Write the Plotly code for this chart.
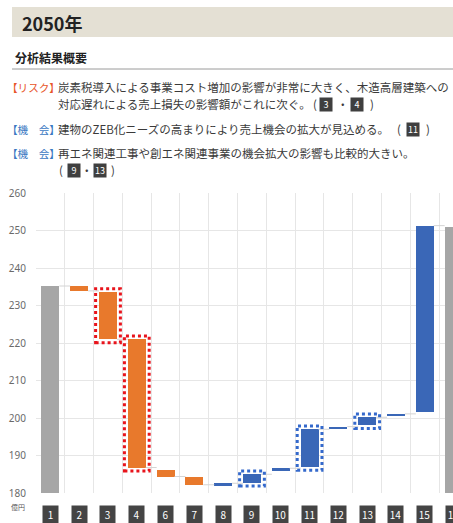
import plotly.graph_objects as go

# ---------------- data ----------------
labels = ["1", "2", "3", "4", "6", "7", "8", "9", "10", "11", "12", "13", "14", "15", "16"]
starts = [180, 235.2, 233.6, 221.0, 186.1, 184.2, 182.1, 182.8, 185.8, 187.0, 197.0, 198.1, 200.6, 201.7, 180]
ends   = [235.2, 233.9, 221.0, 186.8, 184.4, 182.2, 182.6, 185.0, 186.6, 197.0, 197.7, 200.2, 201.1, 251.3, 251.0]
kinds  = ["total", "down", "down", "down", "down", "down", "up", "up", "up", "up", "up", "up", "up", "up", "total"]
red_marked = ["3", "4"]
blue_marked = ["9", "11", "13"]

y_ticks = [180, 190, 200, 210, 220, 230, 240, 250, 260]

colors = {"total": "#a6a6a6", "down": "#e8792c", "up": "#3a67b7"}

# ---------------- geometry helpers (pixel layout) ----------------
W, H = 453, 523
L, R, T, B = 36, 453, 193, 493
XR = [-0.5, 13.98]
BW = 0.62


def pxx(p):
    return (p - L) / (R - L)


def pxy(p):
    return (B - p) / (B - T)


def idx_paper(i):
    return (i - XR[0]) / (XR[1] - XR[0])


xs = list(range(len(labels)))
lows = [min(a, b) for a, b in zip(starts, ends)]
heights = [abs(b - a) for a, b in zip(starts, ends)]

fig = go.Figure()

# connectors
cx, cy = [], []
for i in range(len(labels) - 1):
    cx += [i + BW / 2, i + 1 - BW / 2, None]
    cy += [ends[i], ends[i], None]
fig.add_trace(go.Scatter(x=cx, y=cy, mode="lines", line=dict(color="#d4d4d4", width=1),
                         hoverinfo="skip", showlegend=False))

fig.add_trace(go.Bar(
    x=xs, y=heights, base=lows, width=BW,
    marker=dict(color=[colors[k] for k in kinds], line=dict(width=0)),
    showlegend=False, hoverinfo="skip",
))

shapes = []
# header band
shapes.append(dict(type="rect", xref="paper", yref="paper",
                   x0=pxx(12), x1=pxx(460), y0=pxy(37), y1=pxy(7),
                   fillcolor="#e4e0d4", line=dict(width=0), layer="below"))
# underline
shapes.append(dict(type="line", xref="paper", yref="paper",
                   x0=pxx(12), x1=pxx(460), y0=pxy(69), y1=pxy(69),
                   line=dict(color="#9a9a9a", width=1)))

# dotted highlight frames
pad_x, pad_y = 0.12, 0.9
for lab in red_marked + blue_marked:
    i = labels.index(lab)
    col = "#e8141c" if lab in red_marked else "#3469cc"
    shapes.append(dict(type="rect", xref="x", yref="y",
                       x0=i - BW / 2 - pad_x, x1=i + BW / 2 + pad_x,
                       y0=lows[i] - pad_y, y1=lows[i] + heights[i] + pad_y,
                       line=dict(color=col, width=3, dash="dot")))

ann = []
FONT = "Noto Sans CJK JP"


def text(x, y, s, size, color="#3a3a3a", bold=False, anchor="left"):
    ann.append(dict(xref="paper", yref="paper", x=pxx(x), y=pxy(y), text=(f"<b>{s}</b>" if bold else s),
                    showarrow=False, xanchor=anchor, yanchor="middle",
                    font=dict(family=FONT, size=size, color=color)))


def box(x, y, s, size=9, w=12, h=13, bg="#3f3f3f"):
    ann.append(dict(xref="paper", yref="paper", x=pxx(x), y=pxy(y), text=s,
                    showarrow=False, xanchor="center", yanchor="middle",
                    width=w, height=h, bgcolor=bg, borderpad=0,
                    font=dict(family=FONT, size=size, color="white")))


# header
text(20, 23, "2050年", 18, "#222222", bold=True)
text(13, 57, "分析結果概要", 12, "#222222", bold=True)

# body lines
BODY = 11.5
LAB = 10.6
text(5, 87, "【リスク】", LAB, "#e8562a")
text(56, 87, "炭素税導入による事業コスト増加の影響が非常に大きく、木造高層建築への", BODY)
text(56, 104, "対応遅れによる売上損失の影響額がこれに次ぐ。", BODY)
text(315, 104, "(", BODY, anchor="center")
box(325.5, 104, "3")
text(343, 104, "・", BODY, anchor="center")
box(357, 104, "4")
text(372, 104, ")", BODY, anchor="center")

text(5, 129, "【機　会】", LAB, "#3a78c2")
text(56, 129, "建物のZEB化ニーズの高まりにより売上機会の拡大が見込める。", BODY)
text(399, 129, "(", BODY, anchor="center")
box(413, 129, "11")
text(428, 129, ")", BODY, anchor="center")

text(5, 153, "【機　会】", LAB, "#3a78c2")
text(56, 153, "再エネ関連工事や創エネ関連事業の機会拡大の影響も比較的大きい。", BODY)
text(61, 170, "(", BODY, anchor="center")
box(74, 170, "9")
text(87, 170, "・", BODY, anchor="center")
box(99.5, 170, "13")
text(113, 170, ")", BODY, anchor="center")

# unit label
text(18, 507, "億円", 7, "#555555", anchor="center")

# category label boxes
for i, lab in enumerate(labels):
    ann.append(dict(xref="paper", yref="paper", x=idx_paper(i), y=pxy(514), text=lab,
                    showarrow=False, xanchor="center", yanchor="middle",
                    width=15, height=17, bgcolor="#444444", borderpad=0,
                    font=dict(family=FONT, size=10, color="white")))

fig.update_layout(
    width=W, height=H, autosize=False,
    margin=dict(l=L, r=W - R, t=T, b=H - B, pad=0),
    paper_bgcolor="white", plot_bgcolor="white",
    shapes=shapes, annotations=ann,
    bargap=0,
    xaxis=dict(range=XR, tickvals=[k + 0.5 for k in range(-1, 14)], showticklabels=False,
               showgrid=True, gridcolor="#e6e6e6", gridwidth=1, zeroline=False,
               ticks="", showline=False, fixedrange=True),
    yaxis=dict(range=[180, 260], tickvals=y_ticks, showgrid=True, gridcolor="#e6e6e6",
               gridwidth=1, zeroline=False, ticks="outside", ticklen=7, tickcolor="rgba(0,0,0,0)",
               tickfont=dict(family="Noto Sans", size=10, color="#6a6a6a"), showline=False,
               fixedrange=True),
    font=dict(family=FONT),
)

fig.write_html("out.html", config={"displayModeBar": False})
